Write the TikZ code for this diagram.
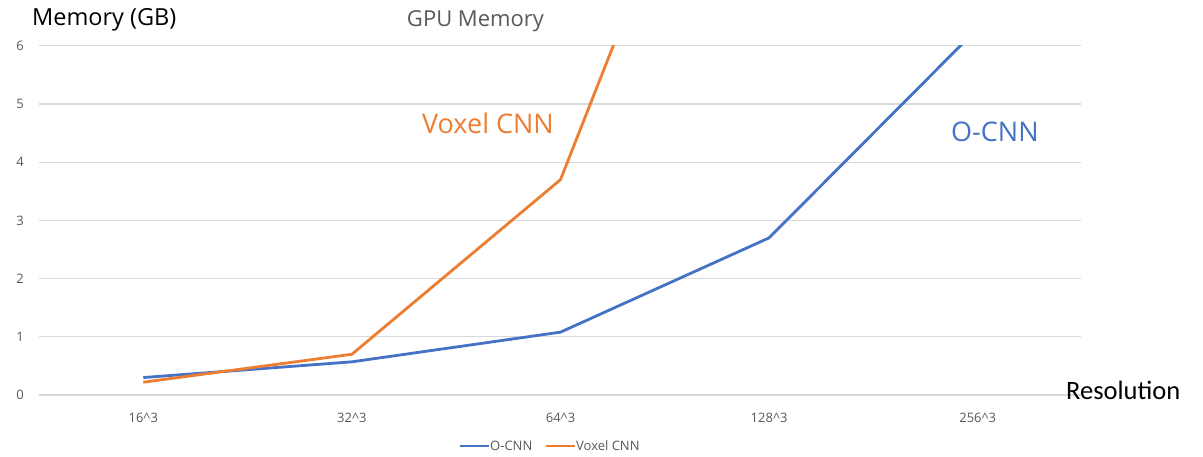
\documentclass[tikz,border=0pt]{standalone}
\usepackage{fontspec}
\setmainfont{Open Sans}
\newfontfamily\calibrilike{Carlito}
\definecolor{ocnn}{HTML}{4472C4}
\definecolor{voxel}{HTML}{ED7D31}
\definecolor{grid}{HTML}{D9D9D9}
\definecolor{ticktext}{HTML}{595959}
\tikzset{
  gridline/.style={grid, line width=1.2pt},
  series/.style={line width=2.8pt, line join=round},
  ticklabel/.style={text=ticktext, font=\fontsize{13}{15}\selectfont, inner sep=0pt},
  bigtitle/.style={font=\fontsize{23.5}{28}\selectfont, inner sep=0pt},
  serieslabel/.style={font=\fontsize{27}{31}\selectfont, inner sep=0pt},
}
\begin{document}
\begin{tikzpicture}[x=1pt,y=-1pt]
\useasboundingbox (0,0) rectangle (1203,456);
\fill[white] (0,0) rectangle (1203,456);

% horizontal gridlines and value labels, 0..6 GB
\foreach \v in {0,...,6} {
  \draw[gridline] (39,{395-58.2*\v}) -- (1081,{395-58.2*\v});
  \node[ticklabel, anchor=center] (ylab\v) at (20,{395-58.2*\v}) {\v};
}

% category labels
\foreach \i/\t in {0/16\^{}3,1/32\^{}3,2/64\^{}3,3/128\^{}3,4/256\^{}3} {
  \node[ticklabel] (xlab\i) at ({143.3+208.6*\i},418) {\t};
}

% data points (value v at pixel row 395-58.2v)
\coordinate (o0) at (143.3,{395-58.2*0.30});
\coordinate (o1) at (351.9,{395-58.2*0.57});
\coordinate (o2) at (560.5,{395-58.2*1.08});
\coordinate (o3) at (769.1,{395-58.2*2.70});
\coordinate (o4) at (977.7,{395-58.2*6.30});
\coordinate (v0) at (143.3,{395-58.2*0.22});
\coordinate (v1) at (351.9,{395-58.2*0.70});
\coordinate (v2) at (560.5,{395-58.2*3.70});
\coordinate (v3) at (769.1,{395-58.2*12.80});

\begin{scope}
  \clip (30,{395-58.2*6}) rectangle (1090,420);
  \draw[series, ocnn] (o0) -- (o1) -- (o2) -- (o3) -- (o4);
  \draw[series, voxel] (v0) -- (v1) -- (v2) -- (v3);
\end{scope}

% titles and annotations
\node[bigtitle, anchor=west] (ytitle) at (32,20) {Memory (GB)};
\node[text=ticktext, font=\fontsize{22}{26}\selectfont, inner sep=0pt] (ctitle) at (475.5,21) {GPU Memory};
\node[serieslabel, text=voxel, anchor=west] (vlabel) at (422,123) {Voxel CNN};
\node[serieslabel, text=ocnn, anchor=west] (olabel) at (951,132) {O-CNN};
\node[font=\calibrilike\fontsize{26.5}{30}\selectfont, inner sep=0pt, anchor=west] (xtitle) at (1066,390) {Resolution};

% legend
\coordinate (lo1) at (460,446);
\coordinate (lo2) at (489,446);
\coordinate (lv1) at (546,446);
\coordinate (lv2) at (575,446);
\draw[series, ocnn] (lo1) -- (lo2);
\node[ticklabel, anchor=west] (lego) at ([xshift=1pt]lo2) {O-CNN};
\draw[series, voxel] (lv1) -- (lv2);
\node[ticklabel, anchor=west] (legv) at ([xshift=1pt]lv2) {Voxel CNN};
\end{tikzpicture}
\end{document}
